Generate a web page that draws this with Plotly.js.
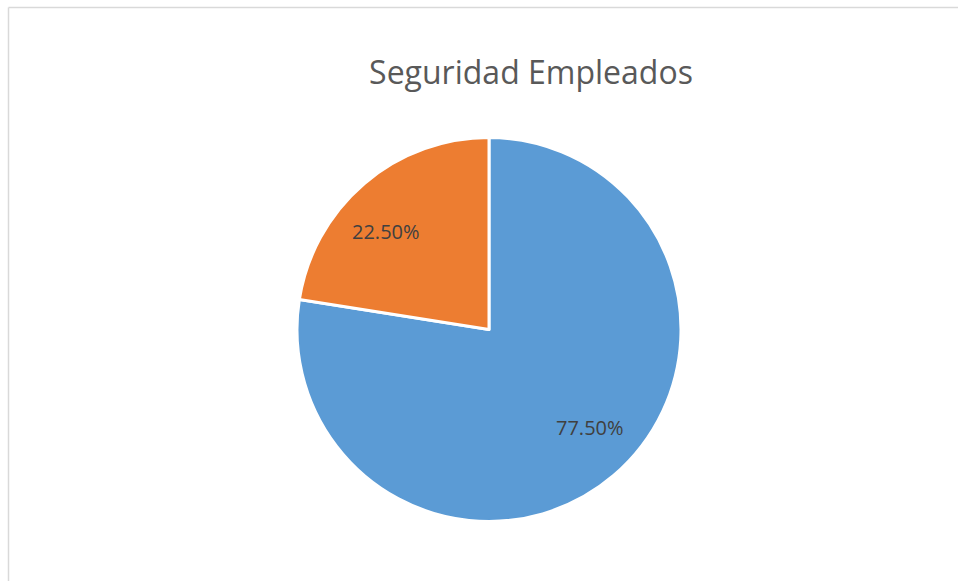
<!DOCTYPE html>
<html>
<head>
<meta charset="utf-8">
<script src="https://cdn.plot.ly/plotly-3.0.1.min.js"></script>
<style>html,body{margin:0;padding:0;background:#fff;}#chart{width:958px;height:581px;}</style>
</head>
<body>
<div id="chart"></div>
<script>
var categories = ["Sí", "No"];
var values = [77.5, 22.5];
var sliceColors = ["#5B9BD5", "#ED7D31"];
var chartTitle = "Seguridad Empleados";

var W = 958, H = 581;
var cx = 489, cy = 329.5, r = 192;

var trace = {
  type: "pie",
  labels: categories,
  values: values,
  sort: false,
  direction: "clockwise",
  rotation: 0,
  marker: {colors: sliceColors, line: {color: "#ffffff", width: 3}},
  textinfo: "none",
  hoverinfo: "label+percent",
  showlegend: false,
  domain: {x: [(cx - r) / W, (cx + r) / W], y: [1 - (cy + r) / H, 1 - (cy - r) / H]}
};

// data label positions (Excel best-fit placement, roughly on the diagonals)
var labelPos = [[590, 427], [386, 231]];
var annotations = values.map(function (v, i) {
  return {
    xref: "paper", yref: "paper",
    x: labelPos[i][0] / W, y: 1 - labelPos[i][1] / H,
    xanchor: "center", yanchor: "middle",
    showarrow: false,
    text: v.toFixed(2) + "%",
    font: {family: "Open Sans, Noto Sans, sans-serif", size: 20, color: "#404040"}
  };
});

var layout = {
  width: W, height: H,
  margin: {l: 0, r: 0, t: 0, b: 0},
  paper_bgcolor: "#ffffff",
  showlegend: false,
  title: {
    text: chartTitle,
    xref: "paper", yref: "paper",
    x: 531 / W, xanchor: "center",
    y: 1 - 73 / H, yanchor: "middle",
    font: {family: "Open Sans, Noto Sans, sans-serif", size: 32, color: "#595959"}
  },
  annotations: annotations,
  shapes: [
    {type: "line", xref: "paper", yref: "paper", x0: 8.5 / W, x1: 1, y0: 1 - 7.5 / H, y1: 1 - 7.5 / H, line: {color: "#d9d9d9", width: 1.5}},
    {type: "line", xref: "paper", yref: "paper", x0: 8.5 / W, x1: 8.5 / W, y0: 1 - 7.5 / H, y1: 0, line: {color: "#d9d9d9", width: 1.5}}
  ]
};

Plotly.newPlot("chart", [trace], layout, {displayModeBar: false, staticPlot: true});
</script>
</body>
</html>
